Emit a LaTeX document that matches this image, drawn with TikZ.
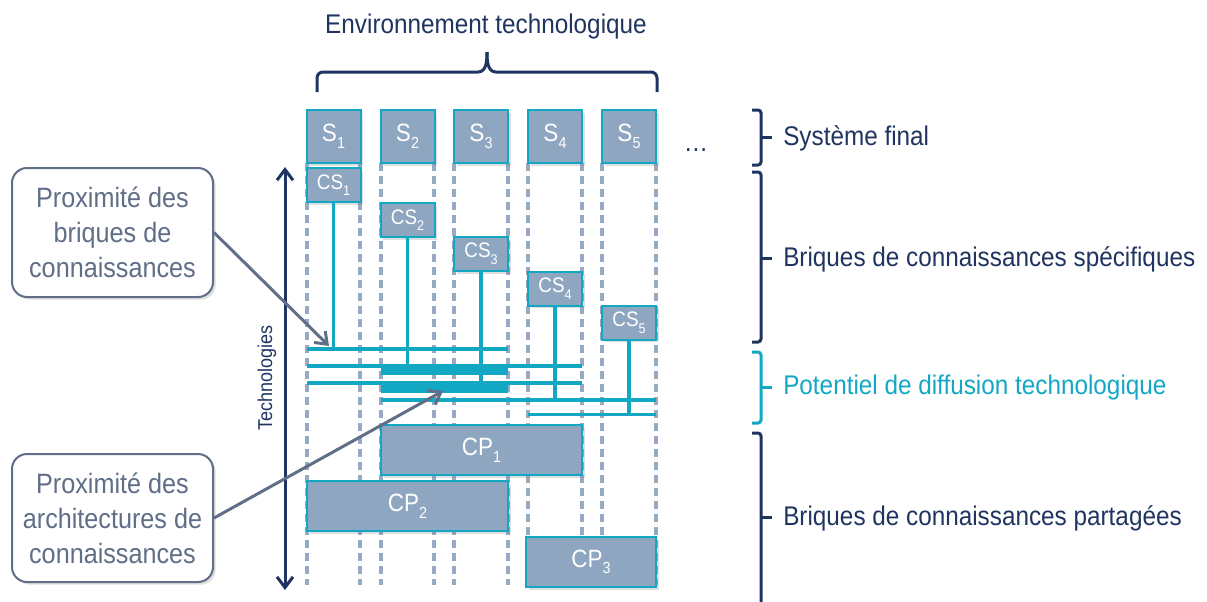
\documentclass[tikz,border=0pt]{standalone}
\usepackage{fontspec}
\setmainfont{Liberation Sans}[FakeStretch=0.9]
\usetikzlibrary{arrows.meta,shadows}
\newlength\pxu \setlength\pxu{0.75pt}
\definecolor{boxfill}{RGB}{143,166,193}
\definecolor{teal}{RGB}{18,168,196}
\definecolor{navy}{RGB}{31,52,96}
\definecolor{callgray}{RGB}{96,110,135}
\definecolor{dashc}{RGB}{150,170,196}
\newcommand\subs[2]{\raisebox{-5pt}{\fontsize{#2}{#2}\selectfont #1}}
\tikzset{
  brick/.style={draw=teal, fill=boxfill, line width=2\pxu, text=white, inner sep=0pt,
    drop shadow={opacity=0.25, shadow xshift=2pt, shadow yshift=-2pt}},
  sbox/.style={brick, minimum width=54\pxu, minimum height=53\pxu, font=\fontsize{18.75pt}{20pt}\selectfont},
  csbox/.style={brick, minimum width=54\pxu, minimum height=34\pxu, font=\fontsize{15.75pt}{17pt}\selectfont},
  cpbox/.style={brick, minimum height=50\pxu, font=\fontsize{18.75pt}{20pt}\selectfont},
  colline/.style={dashc, line width=3.5\pxu, dash pattern=on 6pt off 3.75pt},
  tline/.style={teal, line width=3.3\pxu},
  tbar/.style={fill=teal, draw=none},
  callout/.style={draw=callgray, line width=2\pxu, fill=white, rounded corners=15\pxu, align=center,
    text=callgray, minimum width=201\pxu, font=\fontsize{21pt}{26.25pt}\selectfont,
    drop shadow={opacity=0.25, shadow xshift=2pt, shadow yshift=-2pt}},
  barb/.tip={Straight Barb[length=8pt,width=12pt,line width=2.25pt]},
  pointer/.style={callgray, line width=3\pxu, -barb},
  brace/.style={navy, line width=3\pxu, rounded corners=3\pxu},
  bracelabel/.style={anchor=west, text=navy, font=\fontsize{20.25pt}{22pt}\selectfont, inner sep=0pt}
}
\begin{document}
\begin{tikzpicture}[x=0.75pt, y=-0.75pt]
\useasboundingbox (0,0) rectangle (1207,601);

% column dashed lines
\foreach \xx in {307,360,381,434,454,508,528,582,602,656}
  \draw[colline] (\xx,163) -- (\xx,585);

% top brace and title
\node[text=navy, font=\fontsize{20.25pt}{22pt}\selectfont, inner sep=0pt] (env) at (486,27) {Environnement technologique};
\coordinate (tb) at (487,52);
\draw[navy, line width=3\pxu] (317,92) -- (317,78) to[out=90,in=180] (323,72) -- (478,72) to[out=0,in=-90] (tb);
\draw[navy, line width=3\pxu] (657,92) -- (657,78) to[out=90,in=0] (651,72) -- (496,72) to[out=180,in=-90] (tb);

% S boxes
\node[sbox] (s1) at (333.5,136.5) {S\subs{1}{12pt}};
\node[sbox] (s2) at (407.5,136.5) {S\subs{2}{12pt}};
\node[sbox] (s3) at (481,136.5) {S\subs{3}{12pt}};
\node[sbox] (s4) at (555,136.5) {S\subs{4}{12pt}};
\node[sbox] (s5) at (629,136.5) {S\subs{5}{12pt}};
\node[text=navy, font=\fontsize{20.25pt}{22pt}\selectfont, inner sep=0pt] (dots) at (696,150) {\ldots};

% CS boxes
\node[csbox] (cs1) at (333.5,185) {CS\subs{1}{10.5pt}};
\node[csbox] (cs2) at (407.5,220) {CS\subs{2}{10.5pt}};
\node[csbox] (cs3) at (481,254) {CS\subs{3}{10.5pt}};
\node[csbox] (cs4) at (555,288.5) {CS\subs{4}{10.5pt}};
\node[csbox] (cs5) at (629,322.5) {CS\subs{5}{10.5pt}};

% horizontal diffusion lines
\coordinate (h1a) at (307,349); \coordinate (h1b) at (508,349);
\coordinate (h2a) at (307,366); \coordinate (h2b) at (582,366);
\coordinate (h3a) at (307,383); \coordinate (h3b) at (582,383);
\coordinate (h4a) at (381,400); \coordinate (h4b) at (656,400);
\coordinate (h5a) at (528,414.5); \coordinate (h5b) at (656,414.5);
\fill[tbar] (381,365) rectangle (508,375);
\fill[tbar] (381,382) rectangle (508,392.5);
\draw[tline] (h1a) -- (h1b);
\draw[tline] (h2a) -- (h2b);
\draw[tline] (h3a) -- (h3b);
\draw[tline] (h4a) -- (h4b);
\draw[tline] (h5a) -- (h5b);
\draw[tline] (cs1.south) -- (cs1.south |- h1a);
\draw[tline] (cs2.south) -- (cs2.south |- h2a);
\draw[tline] (cs3.south) -- (cs3.south |- h3a);
\draw[tline] (cs4.south) -- (cs4.south |- h4a);
\draw[tline] (cs5.south) -- (cs5.south |- h5a);

% CP boxes
\node[cpbox, minimum width=201\pxu] (cp1) at (481.5,450) {CP\subs{1}{12pt}};
\node[cpbox, minimum width=201\pxu] (cp2) at (407.5,506) {CP\subs{2}{12pt}};
\node[cpbox, minimum width=130\pxu] (cp3) at (591,562) {CP\subs{3}{12pt}};

% Technologies axis
\coordinate (ttop) at (285,167);
\coordinate (tbot) at (285,590);
\draw[navy, line width=3\pxu, barb-barb] (ttop) -- (tbot);
\node[rotate=90, text=navy, font=\fontsize{15pt}{16pt}\selectfont, inner sep=0pt] (tech) at (267,378) {Technologies};

% callouts
\node[callout, minimum height=129\pxu] (c1) at (112.5,232.5) {Proximité des\\briques de\\connaissances};
\node[callout, minimum height=128\pxu] (c2) at (112.5,518) {Proximité des\\architectures de\\connaissances};
\coordinate (p1) at (329,346);
\coordinate (p2) at (443,391);
\draw[pointer] (c1.east) -- (p1);
\draw[pointer] (c2.east) -- (p2);

% right braces
\draw[brace] (752,110) -- (761,110) -- (761,165) -- (752,165);
\draw[navy, line width=3\pxu] (761,137.5) -- (772,137.5);
\node[bracelabel] (l1) at (783,138) {Système final};

\draw[brace] (752,172) -- (761,172) -- (761,342) -- (752,342);
\draw[navy, line width=3\pxu] (761,258) -- (772,258);
\node[bracelabel] (l2) at (783,259) {Briques de connaissances spécifiques};

\draw[brace, teal] (752,352) -- (761,352) -- (761,423) -- (752,423);
\draw[teal, line width=3\pxu] (761,387.5) -- (772,387.5);
\node[bracelabel, text=teal] (l3) at (783,388) {Potentiel de diffusion technologique};

\draw[brace] (752,433) -- (761,433) -- (761,610);
\draw[navy, line width=3\pxu] (761,517) -- (772,517);
\node[bracelabel] (l4) at (783,518) {Briques de connaissances partagées};
\end{tikzpicture}
\end{document}
